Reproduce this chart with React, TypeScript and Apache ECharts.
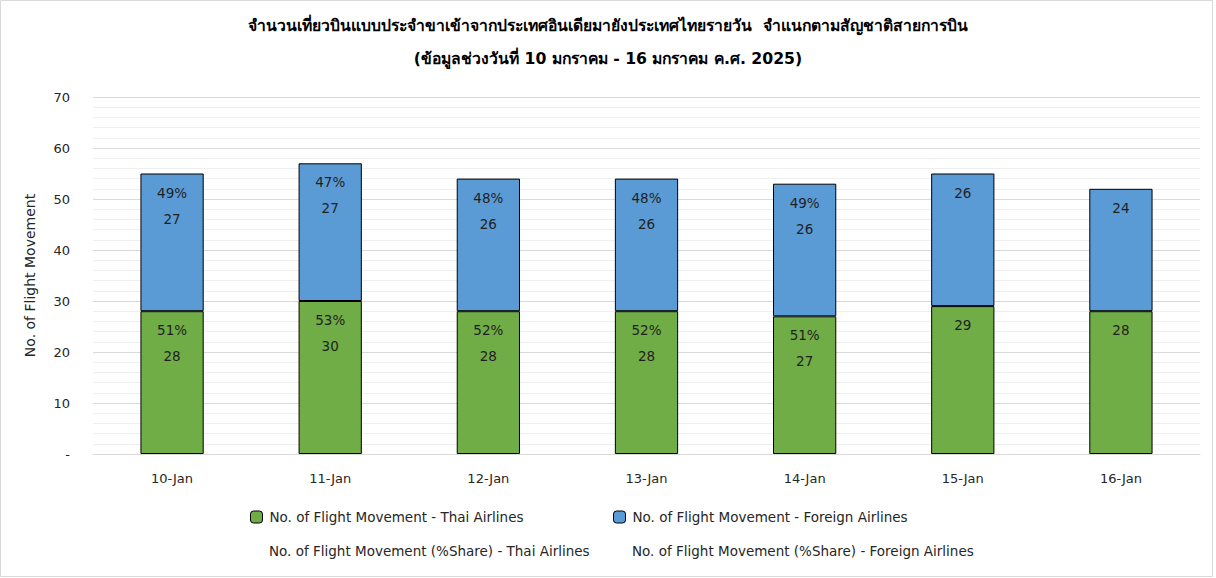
import React, { useEffect, useRef } from "react";
import * as echarts from "echarts";

const categories = ["10-Jan", "11-Jan", "12-Jan", "13-Jan", "14-Jan", "15-Jan", "16-Jan"];
const thaiFlights = [28, 30, 28, 28, 27, 29, 28];
const foreignFlights = [27, 27, 26, 26, 26, 26, 24];
const thaiShare: (number | null)[] = [51, 53, 52, 52, 51, null, null];
const foreignShare: (number | null)[] = [49, 47, 48, 48, 49, null, null];
const yTicks = { min: 0, max: 70, interval: 10 };

const titleText =
  "จำนวนเที่ยวบินแบบประจำขาเข้าจากประเทศอินเดียมายังประเทศไทยรายวัน  จำแนกตามสัญชาติสายการบิน\n(ข้อมูลช่วงวันที่ 10 มกราคม - 16 มกราคม ค.ศ. 2025)";

const S_THAI = "No. of Flight Movement - Thai Airlines";
const S_FOREIGN = "No. of Flight Movement - Foreign Airlines";
const S_THAI_SHARE = "No. of Flight Movement (%Share) - Thai Airlines";
const S_FOREIGN_SHARE = "No. of Flight Movement (%Share) - Foreign Airlines";

const FONT = "Tahoma, 'DejaVu Sans', 'Noto Sans', sans-serif";

function makeLabel(shares: (number | null)[]) {
  return {
    show: true,
    position: "insideTop" as const,
    distance: 6,
    fontFamily: FONT,
    fontSize: 13.5,
    color: "#1f1f1f",
    lineHeight: 26,
    formatter: (p: any) => {
      const s = shares[p.dataIndex];
      return s == null ? String(p.value) : `${s}%\n${p.value}`;
    },
  };
}

export default function App() {
  const ref = useRef<HTMLDivElement>(null);
  useEffect(() => {
    if (!ref.current) return;
    const chart = echarts.init(ref.current, undefined, { renderer: "svg" });
    const legendBase = {
      orient: "horizontal" as const,
      itemWidth: 12,
      itemHeight: 12,
      itemGap: 0,
      textStyle: { fontFamily: FONT, fontSize: 13.5, color: "#262626", padding: [0, 0, 0, 2] },
      padding: 0,
    };
    chart.setOption({
      animation: false,
      backgroundColor: "#ffffff",
      title: {
        text: titleText,
        left: "center",
        top: 4,
        textStyle: { fontFamily: FONT, fontSize: 15.7, fontWeight: "bold", color: "#000", lineHeight: 33 },
      },
      grid: { left: 93, right: 16, top: 97, bottom: 124, containLabel: false },
      legend: [
        { ...legendBase, left: 250, top: 510, data: [{ name: S_THAI, itemStyle: { borderColor: "#000", borderWidth: 1 } }] },
        { ...legendBase, left: 613, top: 510, data: [{ name: S_FOREIGN, itemStyle: { borderColor: "#000", borderWidth: 1 } }] },
        { ...legendBase, left: 250, top: 544, data: [{ name: S_THAI_SHARE, icon: "none" }] },
        { ...legendBase, left: 613, top: 544, data: [{ name: S_FOREIGN_SHARE, icon: "none" }] },
      ],
      xAxis: {
        type: "category",
        data: categories,
        axisLine: { show: true, lineStyle: { color: "#d9d9d9", width: 1 } },
        axisTick: { show: false },
        axisLabel: { fontFamily: FONT, fontSize: 13, color: "#262626", margin: 18 },
      },
      yAxis: {
        type: "value",
        min: yTicks.min,
        max: yTicks.max,
        interval: yTicks.interval,
        name: "No. of Flight Movement",
        nameLocation: "middle",
        nameRotate: 90,
        nameGap: 56,
        nameTextStyle: { fontFamily: FONT, fontSize: 14, color: "#262626" },
        axisLine: { show: false },
        axisTick: { show: false },
        axisLabel: {
          fontFamily: FONT,
          fontSize: 13,
          color: "#262626",
          margin: 23,
          formatter: (v: number) => (v === 0 ? "-" : String(v)),
        },
        splitLine: { show: true, lineStyle: { color: "#d9d9d9", width: 1 } },
        minorTick: { show: false, splitNumber: 5 },
        minorSplitLine: { show: true, lineStyle: { color: "#efefef", width: 1 } },
      },
      series: [
        {
          name: S_THAI,
          type: "bar",
          stack: "total",
          barWidth: "40%",
          data: thaiFlights,
          itemStyle: { color: "#70AD47", borderColor: "#000", borderWidth: 1 },
          label: makeLabel(thaiShare),
        },
        {
          name: S_FOREIGN,
          type: "bar",
          stack: "total",
          barWidth: "40%",
          data: foreignFlights,
          itemStyle: { color: "#5B9BD5", borderColor: "#000", borderWidth: 1 },
          label: makeLabel(foreignShare),
        },
        { name: S_THAI_SHARE, type: "line", data: [], symbol: "none", lineStyle: { opacity: 0 } },
        { name: S_FOREIGN_SHARE, type: "line", data: [], symbol: "none", lineStyle: { opacity: 0 } },
      ],
      graphic: [
        {
          type: "rect",
          shape: { x: 0.5, y: 0.5, width: 1212, height: 576 },
          style: { fill: "none", stroke: "#d9d9d9", lineWidth: 1 },
          silent: true,
        },
      ],
    });
    return () => chart.dispose();
  }, []);
  return (
    <div
      ref={ref}
      style={{ position: "fixed", left: 0, top: 0, width: 1216, height: 578 }}
    />
  );
}
